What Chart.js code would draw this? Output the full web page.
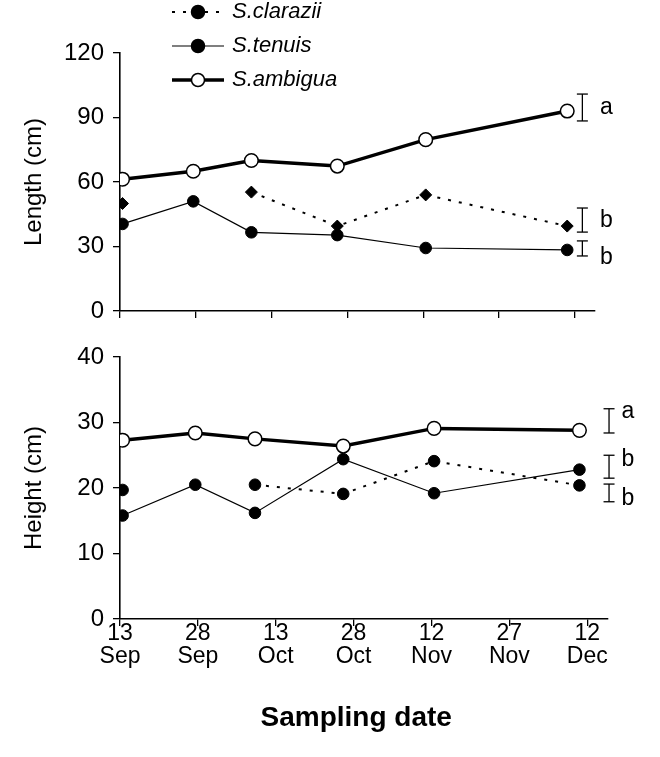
<!DOCTYPE html>
<html><head><meta charset="utf-8">
<script src="https://cdn.jsdelivr.net/npm/chart.js@4.4.1/dist/chart.umd.min.js"></script>
<style>
html,body{margin:0;padding:0;background:#fff;}
#wrap{position:relative;width:660px;height:757px;overflow:hidden;}
.box{position:absolute;left:0;width:660px;}
</style></head><body>
<div id="wrap">
<div class="box" style="top:0;height:340px"><canvas id="c1"></canvas></div>
<div class="box" style="top:330px;height:427px"><canvas id="c2"></canvas></div>
</div>
<script>
// ---- data ----
const sampleDays = [0.5, 14.5, 26, 43, 60.5, 88.5];           // days after 13 Sep
const tickDays = [0, 15, 30, 45, 60, 75, 90];
const tickDayLabels = ['13', '28', '13', '28', '12', '27', '12'];
const tickMonthLabels = ['Sep', 'Sep', 'Oct', 'Oct', 'Nov', 'Nov', 'Dec'];
const seriesNames = ['S.clarazii', 'S.tenuis', 'S.ambigua'];

const lengthClarazii = [50, null, 55.3, 39.5, 54, 39.5];
const lengthTenuis   = [40.5, 51, 36.6, 35.3, 29.3, 28.4];
const lengthAmbigua  = [61.3, 65, 70, 67.4, 79.7, 93];
const lengthTicks = [0, 30, 60, 90, 120];

const heightClarazii = [19.7, null, 20.5, 19.1, 24.1, 20.4];
const heightTenuis   = [15.8, 20.5, 16.2, 24.4, 19.2, 22.8];
const heightAmbigua  = [27.3, 28.4, 27.5, 26.4, 29.1, 28.8];
const heightTicks = [0, 10, 20, 30, 40];

const groupLetters = ['a', 'b', 'b'];
const lengthErrDay = 91.5;
const lengthErrLow  = [88.4, 36.7, 25.6];
const lengthErrHigh = [100.9, 47.9, 32.6];
const lengthLetterY = [94.4, 42, 25];
const heightErrDay = 94.2;
const heightErrLow  = [28.4, 21.5, 17.9];
const heightErrHigh = [32.1, 25.0, 20.6];
const heightLetterY = [31.6, 24.3, 18.4];

// ---- helpers ----
const FONT = '"Liberation Sans", Arial, Helvetica, sans-serif';
function pts(vals) { return vals.map((v, i) => ({ x: sampleDays[i], y: v })); }

function seriesDatasets(clar, ten, amb, clarStyle, clarRadius) {
  return [
    { label: seriesNames[0], data: pts(clar), borderColor: '#000', borderWidth: 2, borderDash: [3, 8],
      pointStyle: clarStyle, pointRadius: clarRadius, pointBackgroundColor: '#000', pointBorderColor: '#000', pointBorderWidth: 1, spanGaps: false, order: 3 },
    { label: seriesNames[1], data: pts(ten), borderColor: '#000', borderWidth: 1.2,
      pointStyle: 'circle', pointRadius: 5.8, pointBackgroundColor: '#000', pointBorderColor: '#000', pointBorderWidth: 1, order: 2 },
    { label: seriesNames[2], data: pts(amb), borderColor: '#000', borderWidth: 3.5,
      pointStyle: 'circle', pointRadius: 6.8, pointBackgroundColor: '#fff', pointBorderColor: '#000', pointBorderWidth: 1.5, order: 1 }
  ];
}
function errDatasets(day, low, high) {
  return low.map((l, i) => ({
    label: 'err' + i, data: [{ x: day, y: l }, { x: day, y: high[i] }],
    borderColor: '#000', borderWidth: 1.3, pointStyle: 'line', pointRadius: 5.5,
    pointBorderColor: '#000', pointBorderWidth: 1.3, pointBackgroundColor: '#000', clip: false, order: 0
  }));
}

const legendPlugin = {
  id: 'legendDraw',
  afterDraw(chart) {
    const ctx = chart.ctx;
    const rows = [12, 46, 80];
    chart.data.datasets.slice(0, 3).forEach((ds, i) => {
      const y = rows[i];
      ctx.save();
      ctx.strokeStyle = '#000';
      ctx.lineWidth = ds.borderWidth;
      ctx.setLineDash(ds.borderDash || []);
      ctx.beginPath(); ctx.moveTo(172, y); ctx.lineTo(224, y); ctx.stroke();
      ctx.setLineDash([]);
      ctx.beginPath(); ctx.arc(198, y, 6.5, 0, Math.PI * 2);
      ctx.fillStyle = ds.pointBackgroundColor; ctx.fill();
      ctx.lineWidth = 1.5; ctx.stroke();
      ctx.font = 'italic 22px ' + FONT;
      ctx.fillStyle = '#000'; ctx.textBaseline = 'middle'; ctx.textAlign = 'left';
      ctx.fillText(ds.label, 232, y);
      ctx.restore();
    });
  }
};

function letterPlugin(day, ys) {
  return {
    id: 'letters',
    afterDatasetsDraw(chart) {
      const ctx = chart.ctx, sx = chart.scales.x, sy = chart.scales.y;
      ctx.save();
      ctx.font = '23px ' + FONT; ctx.fillStyle = '#000';
      ctx.textBaseline = 'middle'; ctx.textAlign = 'left';
      ys.forEach((v, i) => ctx.fillText(groupLetters[i], sx.getPixelForValue(day), sy.getPixelForValue(v)));
      ctx.restore();
    }
  };
}

function xScale(withLabels, height) {
  return {
    type: 'linear', min: 0, max: 94,
    afterBuildTicks(s) { s.ticks = tickDays.map(v => ({ value: v })); },
    afterFit(s) { s.height = height; },
    grid: { drawOnChartArea: false, drawTicks: true, tickLength: 7, color: '#000', lineWidth: 1.3 },
    border: { display: true, color: '#000', width: 1.6 },
    ticks: {
      color: '#000', padding: -4, maxRotation: 0, autoSkip: false,
      font: { family: FONT, size: 23, lineHeight: 1.0 },
      callback(v, i) { return withLabels ? [tickDayLabels[i], tickMonthLabels[i]] : ''; }
    },
    title: withLabels ? { display: true, text: 'Sampling date  ', color: '#000', padding: 0,
      font: { family: FONT, size: 28, weight: 'bold' } } : { display: false }
  };
}
function yScale(ticksArr, max, title) {
  return {
    type: 'linear', min: 0, max: max,
    afterBuildTicks(s) { s.ticks = ticksArr.map(v => ({ value: v })); },
    afterFit(s) { s.width = 120; },
    grid: { drawOnChartArea: false, drawTicks: true, tickLength: 7, color: '#000', lineWidth: 1.3 },
    border: { display: true, color: '#000', width: 1.6 },
    ticks: { color: '#000', padding: 9, font: { family: FONT, size: 24 } },
    title: { display: true, text: title, color: '#000', padding: 20, font: { family: FONT, size: 24 } }
  };
}
function baseOptions(layoutPad, xs, ys) {
  return {
    responsive: true, maintainAspectRatio: false, animation: false,
    layout: { padding: layoutPad },
    plugins: { legend: { display: false }, tooltip: { enabled: false } },
    elements: { line: { tension: 0, fill: false } },
    scales: { x: xs, y: ys }
  };
}

new Chart(document.getElementById('c1'), {
  type: 'line',
  data: { datasets: seriesDatasets(lengthClarazii, lengthTenuis, lengthAmbigua, 'rectRot', 6).concat(errDatasets(lengthErrDay, lengthErrLow, lengthErrHigh)) },
  options: baseOptions({ top: 53, right: 65, left: 0, bottom: 0 }, xScale(false, 29), yScale(lengthTicks, 120, 'Length (cm)')),
  plugins: [legendPlugin, letterPlugin(95, lengthLetterY)]
});

new Chart(document.getElementById('c2'), {
  type: 'line',
  data: { datasets: seriesDatasets(heightClarazii, heightTenuis, heightAmbigua, 'circle', 5.8).concat(errDatasets(heightErrDay, heightErrLow, heightErrHigh)) },
  options: baseOptions({ top: 27, right: 52, left: 0, bottom: 22 }, xScale(true, 116), yScale(heightTicks, 40, 'Height (cm)')),
  plugins: [letterPlugin(96.6, heightLetterY)]
});
</script>
</body></html>
